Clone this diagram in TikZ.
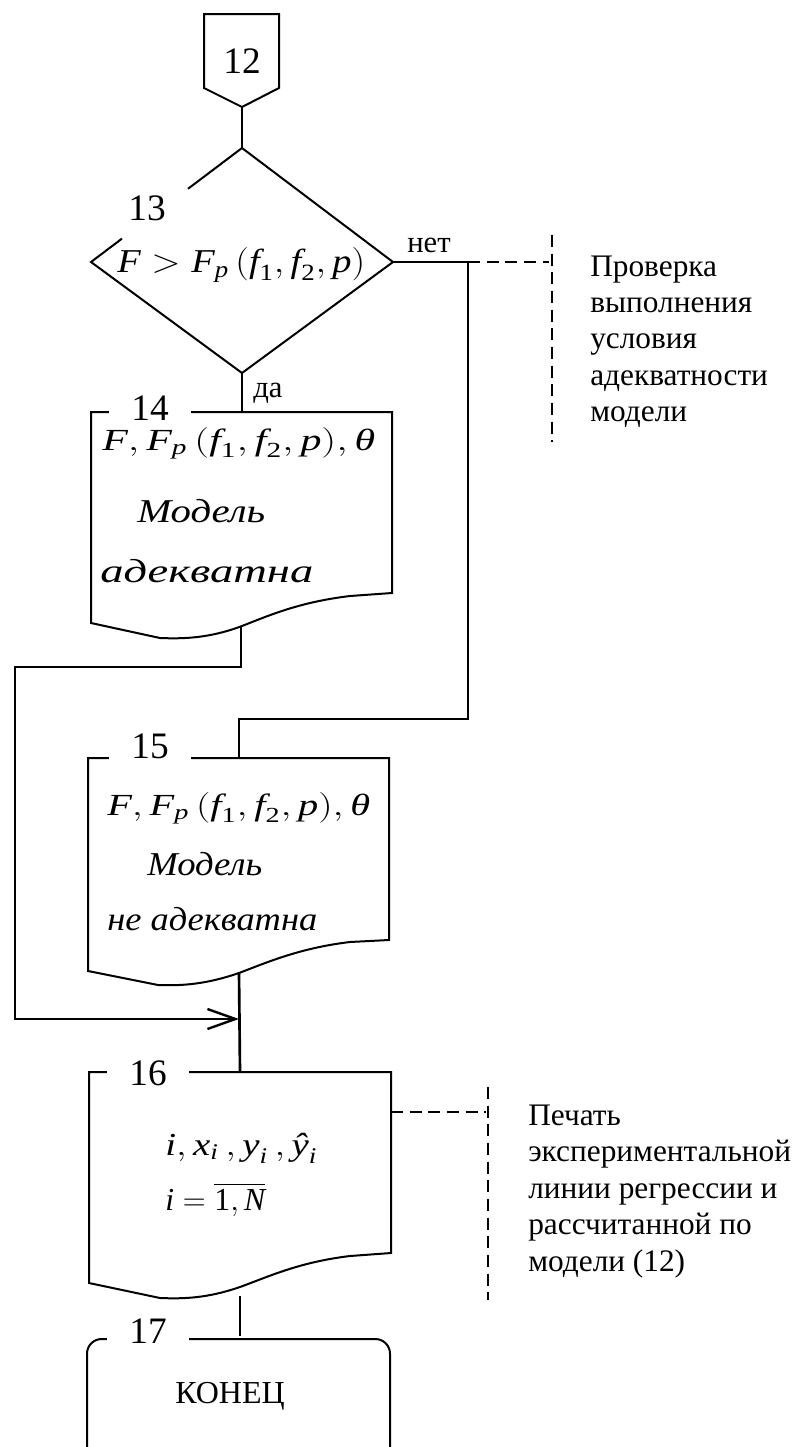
\documentclass[tikz,border=0pt]{standalone}
\usepackage{fix-cm}
\usepackage{amsmath}
\usepackage{graphicx}
\usepackage{fontspec}
\setmainfont{Liberation Serif}
\usetikzlibrary{arrows.meta}
\newcommand{\vi}[1]{\text{\itshape #1}}
\newcommand{\fsz}[1]{\fontsize{#1}{#1}\selectfont}
\newcommand{\wbox}[2]{\resizebox{#1}{\height}{#2}}
\begin{document}
\begin{tikzpicture}[x=0.75pt,y=-0.75pt,
  shp/.style={line width=1.5pt, line join=miter},
  conn/.style={line width=2pt},
  cmt/.style={line width=1.3pt, dash pattern=on 9pt off 5pt},
  lbl/.style={font=\fsz{28}, inner sep=0pt, anchor=base},
  numlbl/.style={font=\fsz{28}, fill=white, inner xsep=16.5pt, inner ysep=3pt, anchor=base},
  txt/.style={font=\fsz{23}, inner sep=0pt, anchor=base west},
  itxt/.style={font=\fsz{25}\itshape, inner sep=0pt, anchor=base west},
  ctxt/.style={font=\fsz{23.5}, inner sep=0pt, anchor=base west},
  ytxt/.style={font=\fsz{23}, inner sep=0pt, anchor=base west},
  arr/.style={-{Straight Barb[length=21pt,width=15pt,line width=1.8pt]}}
]
\useasboundingbox (0,0) rectangle (795,1447);
\clip (0,0) rectangle (795,1447);

% off-page connector 12
\draw[shp] (204,14) -- (279,14) -- (279,88) -- (242,107) -- (204,88) -- cycle;
\coordinate (c12) at (242,107);
\node[lbl] (n12) at (242,73) {12};

% decision 13
\coordinate (dT) at (242,148);
\coordinate (dL) at (91,262);
\coordinate (dR) at (393,262);
\coordinate (dB) at (242,373);
\draw[shp] (188,188.8) -- (dT) -- (dR) -- (dB) -- (dL) -- (122,238.6);
\node[lbl] (n13) at (147,220) {13};
\node[txt, font=\fsz{25}] (cond) at (117,272) {\wbox{186pt}{$\vi{F} > \vi{F}_{\vi{p}}\left(\vi{f}_{\text{1}}, \vi{f}_{\text{2}}, \vi{p}\right)$}};
\node[ytxt] (net) at (407,252) {нет};
\node[ytxt] (da) at (253,397) {да};

% document 14
\draw[shp] (91,412) -- (392,412) -- (392,593) -- (350,596) .. controls (300,602) and (270,615) .. (242,626) .. controls (210,638) and (185,639) .. (160,638) -- (91,623) -- cycle;
\coordinate (b14t) at (242,412);
\coordinate (b14b) at (241,627);
\node[numlbl] (n14) at (150,420) {14};
\node[txt] (f14) at (102,450) {\wbox{204.75pt}{$\vi{F}, \vi{F}_{\vi{p}}\left(\vi{f}_{\text{1}}, \vi{f}_{\text{2}}, \vi{p}\right)\!, \vi{θ}$}};
\node[itxt] (m14) at (137,522) {\wbox{96pt}{Модель}};
\node[itxt] (a14) at (100,582) {\wbox{159.75pt}{адекватна}};

% document 15
\draw[shp] (88,758) -- (389,758) -- (389,940) -- (350,942) .. controls (300,948) and (268,962) .. (239,973) .. controls (207,984) and (183,986) .. (158,985) -- (88,971) -- cycle;
\coordinate (b15t) at (239,758);
\coordinate (b15b) at (239,972);
\node[numlbl] (n15) at (150,758) {15};
\node[txt] (f15) at (107,815) {\wbox{197.25pt}{$\vi{F}, \vi{F}_{\vi{p}}\left(\vi{f}_{\text{1}}, \vi{f}_{\text{2}}, \vi{p}\right)\!, \vi{θ}$}};
\node[itxt] (m15) at (147,875) {\wbox{86.25pt}{Модель}};
\node[itxt] (a15) at (107,930) {\wbox{157.5pt}{не адекватна}};

% document 16
\draw[shp] (89,1072) -- (391,1072) -- (391,1253) -- (350,1256) .. controls (300,1262) and (270,1276) .. (240,1287) .. controls (208,1298) and (185,1299) .. (160,1298) -- (89,1283) -- cycle;
\coordinate (b16t) at (240,1072);
\coordinate (b16b) at (240,1296);
\coordinate (b16r) at (391,1112);
\node[numlbl] (n16) at (148,1085) {16};
\node[txt, font=\fsz{24}] (v16) at (165,1155) {\wbox{114pt}{$\vi{i}, \vi{x}_{\vi{i}}\,, \vi{y}_{\vi{i}}\,, \vi{ŷ}_{\vi{i}}$}};
\node[txt, font=\fsz{24}] (r16) at (165,1210) {\wbox{75pt}{$\vi{i} = \overline{\text{1}, \vi{N}}$}};

% terminal 17
\draw[shp, rounded corners=11pt] (87,1339) rectangle (390,1475);
\coordinate (t17) at (240,1336);
\node[numlbl] (n17) at (148,1343) {17};
\node[font=\fsz{24}, inner sep=0pt, anchor=base] (end) at (230,1403) {КОНЕЦ};

% connectors
\coordinate (j1) at (468,262);
\draw[conn] (c12) -- (dT);
\draw[conn] (dB) -- (b14t);
\draw[conn] (dR) -- (j1) -- (468,719) -- (239,719) -- (b15t);
\draw[conn, arr] (b14b) -- (241,667) -- (15,667) -- (15,1019) -- (239,1019);
\draw[conn] (b15b) -- (b16t);
\draw[conn] (b16b) -- (t17);

% comments
\draw[cmt] (j1) -- (549,262);
\draw[cmt] (552,235) -- (552,442);
\node[ctxt] (k1a) at (590,276) {Проверка};
\node[ctxt] (k1b) at (590,312.4) {выполнения};
\node[ctxt] (k1c) at (590,348.8) {условия};
\node[ctxt] (k1d) at (590,385.2) {адекватности};
\node[ctxt] (k1e) at (590,421.6) {модели};

\draw[cmt] (b16r) -- (486,1112);
\draw[cmt] (488,1087) -- (488,1300);
\node[ctxt] (k2a) at (528,1125) {Печать};
\node[ctxt] (k2b) at (528,1161.6) {экспериментальной};
\node[ctxt] (k2c) at (528,1198.2) {линии регрессии и};
\node[ctxt] (k2d) at (528,1234.8) {рассчитанной по};
\node[ctxt] (k2e) at (528,1271.4) {модели (12)};
\end{tikzpicture}
\end{document}
